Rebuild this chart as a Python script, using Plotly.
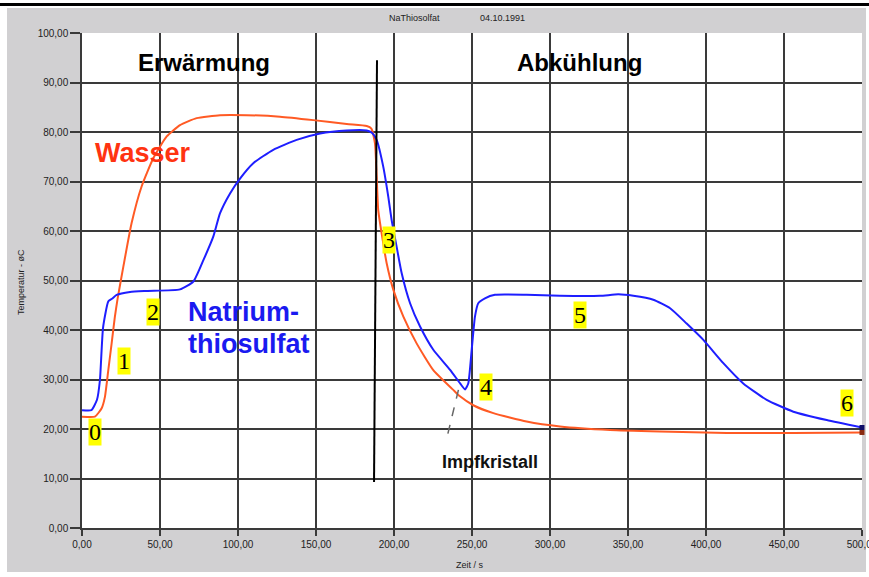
import plotly.graph_objects as go

# ---------------- data ----------------
zeit_thio = [0, 6, 9.6, 11.5, 13.5, 16.9, 19.2, 22.2, 30.8, 41.5, 62.8, 71.4, 77.8, 84.2, 88.5,
             94.9, 101.3, 109.8, 122.6, 137.6, 152.6, 169.7, 182.5, 186, 188.9, 193.1, 196.3,
             198.5, 201.7, 204.9, 210.3, 216.7, 225.2, 236.1, 242.4, 245.5, 247.6, 249.8, 251.9,
             254, 258.3, 264.7, 285, 306.4, 332.1, 343.8, 353.4, 366.2, 377, 387.6, 398.3,
             411.1, 423.9, 438.9, 456, 477.4, 500]
temp_thio = [23.8, 23.8, 25.9, 29.9, 40.5, 45.8, 46.3, 47.1, 47.7, 47.9, 48.2, 49.8, 54.1, 58.9, 63.6,
             67.6, 70.6, 73.7, 76.4, 78.4, 79.7, 80.3, 80.3, 79.8, 78.4, 73, 67,
             62.2, 56.8, 51.5, 45.4, 40.7, 36, 31.9, 29.2, 28.0, 29.2, 36, 42.7,
             45.4, 46.4, 47.1, 47.1, 46.9, 46.9, 47.2, 46.9, 46.1, 44.4, 41.3, 38,
             33.3, 29.2, 25.9, 23.5, 21.8, 20.3]

zeit_wasser = [0, 8.3, 12.6, 14.7, 16.9, 19, 21, 22.8, 26.5, 31.8, 38.2, 45.7, 54.3, 62.8, 73.5,
               88.5, 105.6, 126.9, 148.3, 169.7, 182.5, 185.5, 187.8, 188.9, 189.9, 193.1, 195.3,
               199.6, 206, 214.5, 225.2, 238, 242.3, 250.8, 263.7, 285, 306.4, 338.5, 370.5,
               413.3, 456, 500]
temp_wasser = [22.5, 22.5, 24.2, 26.5, 32.0, 37.3, 42.5, 46.3, 52.8, 61.6, 69, 74.7, 79.1, 81.4, 82.8,
               83.4, 83.4, 83.1, 82.4, 81.6, 81.2, 80.7, 77.7, 71, 64.2, 57.5, 53.5,
               48.1, 42.7, 37.3, 31.9, 27.9, 26.6, 24.8, 23.2, 21.5, 20.5, 19.8, 19.5,
               19.2, 19.2, 19.3]

x_ticks = [0, 50, 100, 150, 200, 250, 300, 350, 400, 450, 500]
y_ticks = [0, 10, 20, 30, 40, 50, 60, 70, 80, 90, 100]

# numbered markers: label, x, y
stufen_labels = ["0", "1", "2", "3", "4", "5", "6"]
stufen_x = [8.3, 27.2, 45.2, 196.6, 258.9, 319.0, 490.7]
stufen_y = [19.3, 33.7, 43.6, 58.2, 28.5, 43.1, 25.2]

# seed crystal marker line (data coords)
impf_x = [241.3, 233.8]
impf_y = [27.9, 18.1]
# vertical marker line
vline_x = [189.1, 187.2]
vline_y = [94.5, 9.3]

# ---------------- figure ----------------
W, H = 869, 577
L, R, T, B = 82, 7, 33, 49
pw, ph = W - L - R, H - T - B

def px_x(p):
    return (p - L) / pw

def px_y(p):
    return (H - B - p) / ph

BLUE = "#1e1eff"
ORANGE = "#ff5a24"

fig = go.Figure()
fig.add_trace(go.Scatter(x=zeit_wasser, y=temp_wasser, mode="lines",
                         line=dict(color=ORANGE, width=2, shape="spline", smoothing=0.5),
                         name="Wasser", showlegend=False))
fig.add_trace(go.Scatter(x=zeit_thio, y=temp_thio, mode="lines",
                         line=dict(color=BLUE, width=2, shape="spline", smoothing=0.5),
                         name="Natriumthiosulfat", showlegend=False))
fig.add_trace(go.Scatter(x=[zeit_wasser[-1]], y=[temp_wasser[-1]], mode="markers",
                         marker=dict(color="#8a2a10", size=5, symbol="square"), showlegend=False,
                         cliponaxis=False))
fig.add_trace(go.Scatter(x=[zeit_thio[-1]], y=[temp_thio[-1]], mode="markers",
                         marker=dict(color="#10106a", size=5, symbol="square"), showlegend=False,
                         cliponaxis=False))

shapes = []
# white margins around gray frame
white = dict(type="rect", xref="paper", yref="paper", fillcolor="white", line=dict(width=0), layer="below")
shapes.append(dict(white, x0=px_x(0), x1=px_x(W), y0=px_y(8), y1=px_y(0)))
shapes.append(dict(white, x0=px_x(0), x1=px_x(7), y0=px_y(H), y1=px_y(0)))
shapes.append(dict(white, x0=px_x(866), x1=px_x(W), y0=px_y(H), y1=px_y(0)))
shapes.append(dict(white, x0=px_x(0), x1=px_x(W), y0=px_y(H), y1=px_y(572)))
# top black rule
shapes.append(dict(type="line", xref="paper", yref="paper", x0=px_x(0), x1=px_x(W),
                   y0=px_y(4.5), y1=px_y(4.5), line=dict(color="black", width=3)))
# vertical marker line
shapes.append(dict(type="line", xref="x", yref="y", x0=vline_x[0], x1=vline_x[1],
                   y0=vline_y[0], y1=vline_y[1], line=dict(color="black", width=2)))
# Impfkristall pointer
shapes.append(dict(type="line", xref="x", yref="y", x0=impf_x[0], x1=impf_x[1],
                   y0=impf_y[0], y1=impf_y[1], line=dict(color="#666666", width=1.5, dash="dash")))

ann = []
SANS = "Liberation Sans, Arial, sans-serif"
for lab, xx, yy in zip(stufen_labels, stufen_x, stufen_y):
    ann.append(dict(x=xx, y=yy, xref="x", yref="y", text=lab, showarrow=False,
                    xanchor="center", yanchor="middle",
                    font=dict(family="Liberation Serif, Times New Roman, serif", size=24, color="black"),
                    bgcolor="#ffff00", borderpad=0))
ann.append(dict(x=78.2, y=94.1, xref="x", yref="y", text="<b>Erwärmung</b>", showarrow=False,
                xanchor="center", font=dict(family=SANS, size=24, color="black")))
ann.append(dict(x=318.6, y=94.1, xref="x", yref="y", text="<b>Abkühlung</b>", showarrow=False,
                xanchor="center", font=dict(family=SANS, size=24, color="black")))
ann.append(dict(x=38.8, y=75.8, xref="x", yref="y", text="<b>Wasser</b>", showarrow=False,
                xanchor="center", font=dict(family=SANS, size=27, color="#ff3311")))
ann.append(dict(x=66.7, y=43.6, xref="x", yref="y", text="<b>Natrium-</b>", showarrow=False,
                xanchor="left", font=dict(family=SANS, size=27, color="#1a1af0")))
ann.append(dict(x=66.7, y=37.2, xref="x", yref="y", text="<b>thiosulfat</b>", showarrow=False,
                xanchor="left", font=dict(family=SANS, size=27, color="#1a1af0")))
ann.append(dict(x=229.5, y=13.3, xref="x", yref="y", text="<b>Impfkristall</b>", showarrow=False,
                xanchor="left", font=dict(family=SANS, size=18, color="#111111")))
# header
ann.append(dict(x=px_x(414.5), y=px_y(18), xref="paper", yref="paper", text="NaThiosolfat",
                xanchor="center", yanchor="middle",
                showarrow=False, font=dict(family=SANS, size=9, color="#222222")))
ann.append(dict(x=px_x(502), y=px_y(18), xref="paper", yref="paper", text="04.10.1991",
                xanchor="center", yanchor="middle",
                showarrow=False, font=dict(family=SANS, size=9, color="#222222")))
# axis titles
ann.append(dict(x=px_x(21), y=px_y(282), xref="paper", yref="paper", text="Temperatur - øC",
                xanchor="center", yanchor="middle",
                textangle=-90, showarrow=False, font=dict(family=SANS, size=9, color="#222222")))
ann.append(dict(x=px_x(470), y=px_y(565), xref="paper", yref="paper", text="Zeit / s",
                xanchor="center", yanchor="middle",
                showarrow=False, font=dict(family=SANS, size=9, color="#222222")))

GRID = "#3a3a3a"
fig.update_layout(
    width=W, height=H,
    margin=dict(l=L, r=R, t=T, b=B, pad=0, autoexpand=False),
    paper_bgcolor="#d1d0d2",
    plot_bgcolor="white",
    separators=",.",
    shapes=shapes,
    annotations=ann,
    showlegend=False,
)
fig.update_xaxes(range=[0, 500], tickvals=x_ticks, tickformat=".2f", showgrid=True,
                 gridcolor=GRID, gridwidth=1.5, zeroline=False, showline=True, linecolor=GRID,
                 linewidth=1.5, ticks="outside", ticklen=6, tickcolor=GRID, tickwidth=1.5,
                 ticklabeloverflow="allow", automargin=False,
                 tickfont=dict(family=SANS, size=10, color="#222222"))
fig.update_yaxes(range=[0, 100], tickvals=y_ticks, tickformat=".2f", showgrid=True,
                 gridcolor=GRID, gridwidth=1.5, zeroline=False, showline=True, linecolor=GRID,
                 linewidth=1.5, ticks="outside", ticklen=10, tickcolor=GRID, tickwidth=1.5,
                 ticklabeloverflow="allow", automargin=False,
                 tickfont=dict(family=SANS, size=10, color="#222222"))

fig.write_html("out.html", config={"displayModeBar": False},
               post_script="document.body.style.margin='0';document.body.style.overflow='hidden';")
